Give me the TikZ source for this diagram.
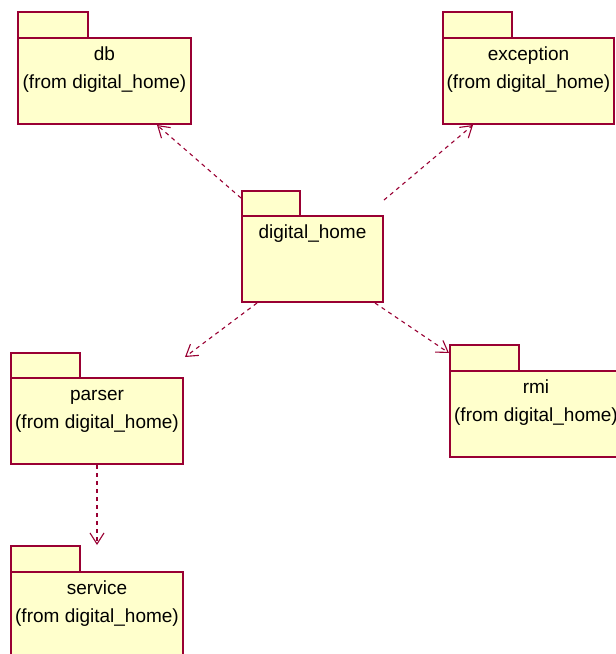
\documentclass[tikz,border=0pt]{standalone}
\usepackage{fontspec}
\setmainfont{Liberation Sans}
\usetikzlibrary{arrows.meta,calc}
\definecolor{pkgline}{RGB}{153,0,51}
\definecolor{pkgfill}{RGB}{255,255,204}
\begin{document}
\begin{tikzpicture}[x=1pt,y=-1pt,
  pkgbody/.style={draw=pkgline,fill=pkgfill,line width=1.2pt,minimum height=86pt,
    anchor=north west,inner sep=0pt,outer sep=0pt},
  pkgtab/.style={draw=pkgline,fill=pkgfill,line width=1.2pt,minimum height=26pt,
    anchor=south west,inner sep=0pt,outer sep=0pt},
  pkgtext/.style={anchor=base,inner sep=0pt,font=\fontsize{19}{22}\selectfont,text=black},
  dep/.style={draw=pkgline,line width=1.1pt,dash pattern=on 4pt off 4pt,
    -{Straight Barb[length=11pt,width=14pt]}}]
\useasboundingbox (0,0) rectangle (616,654);
\begin{scope}
\clip (0,0) rectangle (616,654);
% packages
\node[pkgbody,minimum width=173pt] (db) at (18,38) {};
\node[pkgtab,minimum width=70pt] (dbtab) at (db.north west) {};
\node[pkgtext] (dbname) at ($(db.north)+(0,22)$) {db};
\node[pkgtext] (dbfrom) at ($(db.north)+(0,50)$) {(from digital\_home)};

\node[pkgbody,minimum width=171pt] (exc) at (443,38) {};
\node[pkgtab,minimum width=69pt] (exctab) at (exc.north west) {};
\node[pkgtext] (excname) at ($(exc.north)+(0,22)$) {exception};
\node[pkgtext] (excfrom) at ($(exc.north)+(0,50)$) {(from digital\_home)};

\node[pkgbody,minimum width=141pt] (dh) at (242,216) {};
\node[pkgtab,minimum width=58pt,minimum height=25pt] (dhtab) at (dh.north west) {};
\node[pkgtext] (dhname) at ($(dh.north)+(0,22)$) {digital\_home};

\node[pkgbody,minimum width=172pt] (parser) at (11,378) {};
\node[pkgtab,minimum width=69pt,minimum height=25pt] (parsertab) at (parser.north west) {};
\node[pkgtext] (parsername) at ($(parser.north)+(0,22)$) {parser};
\node[pkgtext] (parserfrom) at ($(parser.north)+(0,50)$) {(from digital\_home)};

\node[pkgbody,minimum width=172pt] (rmi) at (450,371) {};
\node[pkgtab,minimum width=69pt] (rmitab) at (rmi.north west) {};
\node[pkgtext] (rminame) at ($(rmi.north)+(0,22)$) {rmi};
\node[pkgtext] (rmifrom) at ($(rmi.north)+(0,50)$) {(from digital\_home)};

\node[pkgbody,minimum width=172pt] (service) at (11,572) {};
\node[pkgtab,minimum width=69pt] (servicetab) at (service.north west) {};
\node[pkgtext] (servicename) at ($(service.north)+(0,22)$) {service};
\node[pkgtext] (servicefrom) at ($(service.north)+(0,50)$) {(from digital\_home)};

% dependencies
\draw[dep] ($(dhtab.north west)+(-1,7)$) -- ($(db.south west)+(139,1)$);
\draw[dep] ($(dh.north east)+(1,-16)$) -- ($(exc.south west)+(30,1)$);
\draw[dep] ($(dh.south west)+(15,1)$) -- ($(parser.north east)+(2,-21)$);
\draw[dep] ($(dh.south east)+(-8,1)$) -- ($(rmitab.north west)+(-1,8)$);
\draw[dep] ($(parser.south)+(0,1)$) -- ($(service.north)+(0,-27)$);
\end{scope}
\end{tikzpicture}
\end{document}
